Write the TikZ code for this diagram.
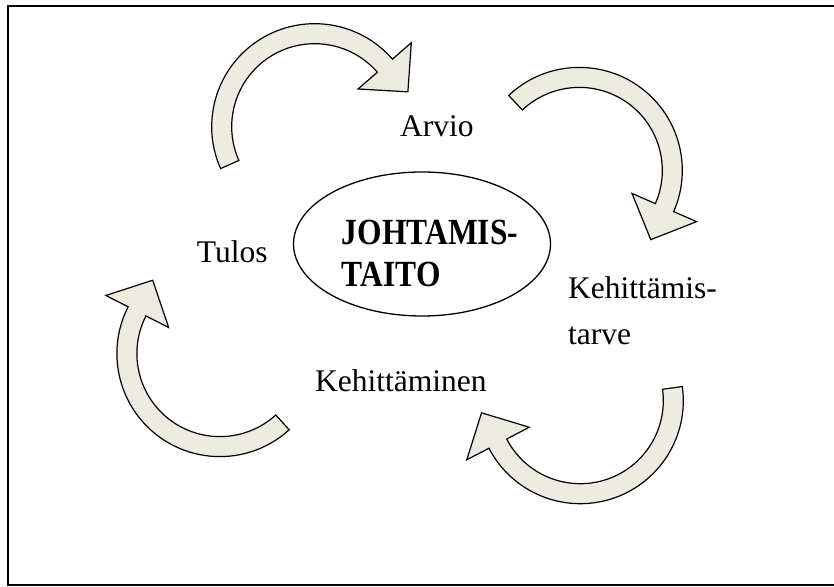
\documentclass[tikz,border=0pt]{standalone}
\usepackage{fontspec}
\usepackage{graphicx}
\setmainfont{Liberation Serif}
\usetikzlibrary{calc,shapes.geometric}

\definecolor{arrowfill}{HTML}{EEECE1}

% One block arrow bent on a circle around #1, running clockwise
% from the tail angle #2 to the head base angle #3.
\newcommand{\cyclearrow}[3]{%
  \draw[cyclearrowstyle]
    ($(#1)+(#2:103pt)$) arc[start angle=#2, end angle=#3, radius=103pt]
    -- ($(#1)+(#3:128pt)$)
    -- ($(#1)+({#3-20.5}:99.5pt)$)
    -- ($(#1)+(#3:57.5pt)$)
    -- ($(#1)+(#3:83pt)$) arc[start angle=#3, end angle=#2, radius=83pt]
    -- cycle;}

% taller bold lettering for the centre title
\newcommand{\tallbold}[1]{\scalebox{1}[1.17]{\bfseries #1}}

\begin{document}
\begin{tikzpicture}[x=1pt, y=1pt,
  cyclearrowstyle/.style={fill=arrowfill, draw=black, line width=1.2pt, line join=miter},
  label/.style={inner sep=0pt, anchor=base west, font=\fontsize{31.5}{38}\selectfont},
  frame/.style={draw=black, line width=2pt}]
  \useasboundingbox (0,0) rectangle (834,586);
  \fill[white] (0,0) rectangle (834,586);

  % outer frame
  \draw[frame] (8,580) rectangle (845,1.5);

  % centres of the four bent arrows
  \coordinate (c1) at (314.7,459.3);
  \coordinate (c2) at (579.3,415.6);
  \coordinate (c3) at (580.3,185.3);
  \coordinate (c4) at (219.9,232.4);

  \cyclearrow{c1}{204}{41}
  \cyclearrow{c2}{133.3}{-23.6}
  \cyclearrow{c3}{7.9}{-152.5}
  \cyclearrow{c4}{-47.7}{-207}

  % centre ellipse
  \node[ellipse, draw=black, line width=1.3pt, minimum width=257pt, minimum height=144pt, inner sep=0pt] (core) at (422,342) {};
  \node[label] (core1) at (341.7,341) {\tallbold{JOHTAMIS-}};
  \node[label] (core2) at (341.7,299) {\tallbold{TAITO}};

  % stage labels
  \node[label] (arvio) at (400,449.3) {Arvio};
  \node[label] (tarve1) at (568,287) {Kehittämis-};
  \node[label] (tarve2) at (568,241) {tarve};
  \node[label] (kehitt) at (315,194.3) {Kehittäminen};
  \node[label] (tulos) at (196.7,323) {Tulos};
\end{tikzpicture}
\end{document}
